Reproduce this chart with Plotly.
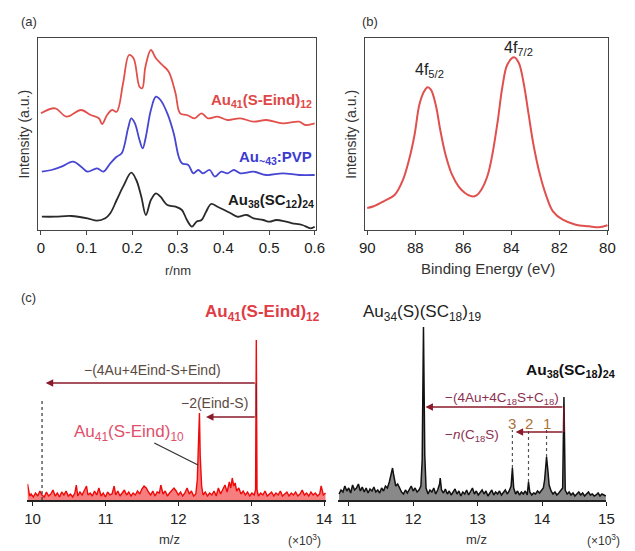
import plotly.graph_objects as go

W, H = 635, 551
FONT = "Liberation Sans, Arial, sans-serif"

# ---------------- Panel (a): RDF curves ----------------
r_red = [0.000, 0.031, 0.056, 0.088, 0.109, 0.127, 0.134, 0.145, 0.156, 0.166, 0.180, 0.193, 0.203,
         0.216, 0.222, 0.229, 0.241, 0.252, 0.266, 0.280, 0.295, 0.305, 0.320, 0.337, 0.352, 0.366,
         0.387, 0.409, 0.437, 0.466, 0.494, 0.530, 0.566, 0.580, 0.600]
i_red = [116.7, 121.7, 113.3, 120, 115, 111.7, 106, 115, 120, 118.3, 146.7, 175, 171.7,
         143.3, 141.7, 163.3, 180, 171.7, 165, 158.3, 136.7, 116.7, 115, 111.7, 116.7, 111.7,
         113.3, 110, 111.7, 108.3, 110, 106.7, 108.3, 105, 106.7]

r_blue = [0.002, 0.023, 0.045, 0.070, 0.088, 0.102, 0.123, 0.137, 0.152, 0.166, 0.177, 0.191, 0.198,
          0.206, 0.216, 0.223, 0.230, 0.241, 0.252, 0.262, 0.277, 0.291, 0.302, 0.309, 0.323, 0.334,
          0.345, 0.355, 0.370, 0.381, 0.395, 0.409, 0.423, 0.437, 0.466, 0.494, 0.530, 0.566, 0.600]
i_blue = [58.3, 60, 63.3, 68.3, 63.3, 58.3, 61.7, 58.3, 66.7, 73.3, 76.7, 101.7, 111.7,
          106.7, 90, 81.7, 93.3, 120, 133.3, 130, 116.7, 96.7, 73.3, 66.7, 65, 56.7,
          60, 56.7, 60, 53.3, 58.3, 56.7, 60, 56.7, 58.3, 55, 56.7, 55, 55]

r_black = [0.002, 0.031, 0.066, 0.102, 0.123, 0.141, 0.152, 0.166, 0.180, 0.198, 0.209, 0.220, 0.230,
           0.241, 0.252, 0.262, 0.277, 0.295, 0.309, 0.320, 0.331, 0.341, 0.352, 0.362, 0.373, 0.387,
           0.402, 0.416, 0.430, 0.451, 0.466, 0.487, 0.501, 0.516, 0.537, 0.551, 0.573, 0.591, 0.600]
i_black = [13.3, 13.3, 14, 11.7, 9.3, 11.7, 16.7, 30, 43.3, 57.3, 50, 33.3, 15,
           30, 36.7, 33.3, 25, 23.3, 20, 10, 3.3, 8.3, 10, 18.3, 26, 23.3,
           20, 16.7, 13.3, 15, 11.7, 10, 8.3, 10, 8.3, 6.7, 5, 1.7, 3.3]

r_ticks = [0, 0.1, 0.2, 0.3, 0.4, 0.5, 0.6]
r_tick_labels = ["0", "0.1", "0.2", "0.3", "0.4", "0.5", "0.6"]

# ---------------- Panel (b): XPS ----------------
be = [90.00, 89.73, 89.32, 88.85, 88.51, 88.24, 88.03, 87.83, 87.63, 87.49, 87.35, 87.15, 86.95,
      86.74, 86.47, 86.20, 85.93, 85.66, 85.45, 85.25, 84.98, 84.78, 84.57, 84.37, 84.17, 83.89,
      83.69, 83.49, 83.28, 83.08, 82.81, 82.54, 82.27, 81.86, 81.32, 80.77, 80.37, 80.00]
xps = [20, 21.7, 26.7, 33.3, 48.3, 70, 93.3, 123.3, 136.7, 140.7, 138.3, 123.3, 96.7,
       73.3, 53.3, 41.7, 35, 31.7, 32.7, 38.3, 53.3, 75, 106.7, 141.7, 163.3, 170.7,
       165, 145, 113.3, 83.3, 53.3, 31.7, 16.7, 8.3, 3.3, 1.7, 0.7, 2.7]
be_ticks = [90, 88, 86, 84, 82, 80]

# ---------------- Panel (c) left: MALDI Au41(S-Eind)12 ----------------
mz_left = [9.93, 9.96, 9.98, 10.01, 10.04, 10.07, 10.10, 10.13, 10.16, 10.19,
           10.22, 10.25, 10.28, 10.31, 10.34, 10.37, 10.40, 10.43, 10.46, 10.49,
           10.52, 10.55, 10.58, 10.60, 10.62, 10.65, 10.68, 10.71, 10.74, 10.76,
           10.79, 10.82, 10.85, 10.88, 10.91, 10.94, 10.97, 11.00, 11.03, 11.06,
           11.09, 11.12, 11.14, 11.17, 11.20, 11.23, 11.26, 11.29, 11.32, 11.35,
           11.38, 11.41, 11.44, 11.47, 11.50, 11.53, 11.56, 11.59, 11.62, 11.65,
           11.68, 11.71, 11.74, 11.76, 11.79, 11.82, 11.85, 11.88, 11.91, 11.94,
           11.97, 12.00, 12.03, 12.06, 12.09, 12.12, 12.15, 12.18, 12.21, 12.24,
           12.26, 12.28, 12.29, 12.30, 12.32, 12.34, 12.37, 12.40, 12.43, 12.46,
           12.49, 12.52, 12.55, 12.58, 12.61, 12.64, 12.67, 12.70, 12.72, 12.74,
           12.76, 12.78, 12.80, 12.83, 12.86, 12.89, 12.92, 12.95, 12.98, 13.01,
           13.04, 13.06, 13.07, 13.08, 13.10, 13.13, 13.16, 13.19, 13.22, 13.25,
           13.28, 13.31, 13.34, 13.37, 13.40, 13.43, 13.46, 13.49, 13.52, 13.55,
           13.58, 13.61, 13.64, 13.67, 13.70, 13.73, 13.76, 13.79, 13.82, 13.85,
           13.88, 13.91, 13.94, 13.96, 13.99, 14.02]
int_left = [16, 4, 6, 3, 7, 4, 9, 5, 3, 8,
            4, 6, 10, 4, 7, 3, 8, 5, 9, 4,
            6, 3, 7, 15, 4, 8, 5, 9, 14, 5,
            7, 4, 9, 5, 12, 4, 7, 3, 8, 5,
            6, 14, 5, 9, 4, 7, 10, 5, 8, 4,
            7, 5, 9, 6, 11, 14, 12, 8, 5, 9,
            4, 8, 7, 15, 6, 9, 4, 7, 10, 12,
            9, 5, 8, 4, 7, 12, 6, 9, 4, 6,
            20, 55, 87, 45, 14, 5, 8, 4, 7, 5,
            9, 4, 12, 6, 10, 15, 8, 18, 12, 22,
            14, 17, 9, 12, 6, 9, 5, 8, 4, 7,
            5, 10, 160, 10, 4, 7, 5, 9, 4, 6,
            8, 4, 7, 5, 9, 4, 6, 8, 4, 7,
            5, 8, 4, 6, 10, 5, 7, 4, 8, 5,
            7, 4, 6, 14, 5, 7]

# ---------------- Panel (c) right: MALDI Au38(SC18)24 ----------------
mz_right = [10.85, 10.88, 10.91, 10.94, 10.97, 11.00, 11.03, 11.06, 11.09, 11.12,
            11.15, 11.18, 11.21, 11.24, 11.27, 11.30, 11.33, 11.36, 11.39, 11.42,
            11.45, 11.48, 11.51, 11.54, 11.57, 11.60, 11.63, 11.66, 11.68, 11.70,
            11.73, 11.76, 11.79, 11.82, 11.85, 11.88, 11.91, 11.94, 11.97, 12.00,
            12.03, 12.06, 12.09, 12.12, 12.14, 12.16, 12.18, 12.20, 12.23, 12.26,
            12.29, 12.32, 12.35, 12.38, 12.41, 12.42, 12.44, 12.47, 12.50, 12.53,
            12.56, 12.59, 12.62, 12.65, 12.68, 12.71, 12.74, 12.77, 12.80, 12.83,
            12.86, 12.89, 12.92, 12.95, 12.98, 13.01, 13.04, 13.07, 13.10, 13.13,
            13.16, 13.19, 13.22, 13.25, 13.28, 13.31, 13.34, 13.37, 13.40, 13.43,
            13.46, 13.49, 13.52, 13.54, 13.56, 13.59, 13.62, 13.65, 13.68, 13.71,
            13.74, 13.77, 13.79, 13.81, 13.84, 13.87, 13.90, 13.93, 13.96, 13.99,
            14.02, 14.04, 14.06, 14.07, 14.09, 14.11, 14.14, 14.17, 14.20, 14.23,
            14.26, 14.29, 14.32, 14.34, 14.36, 14.39, 14.42, 14.45, 14.48, 14.51,
            14.54, 14.57, 14.60, 14.63, 14.66, 14.69, 14.72, 14.75, 14.78, 14.81,
            14.84, 14.87, 14.90, 14.93, 14.96, 14.99]
int_right = [6, 10, 8, 14, 9, 12, 7, 15, 10, 12,
             16, 9, 13, 8, 12, 7, 11, 9, 13, 8,
             10, 7, 12, 9, 14, 12, 18, 25, 32, 24,
             14, 16, 12, 8, 6, 10, 7, 11, 14, 9,
             12, 8, 10, 14, 40, 173, 45, 12, 6, 10,
             8, 12, 6, 10, 16, 22, 10, 7, 11, 6,
             9, 5, 8, 11, 6, 9, 4, 8, 6, 10,
             5, 8, 12, 6, 9, 5, 8, 10, 6, 9,
             4, 7, 10, 5, 8, 6, 9, 5, 7, 10,
             6, 9, 14, 32, 12, 6, 9, 5, 8, 6,
             9, 5, 18, 8, 5, 7, 6, 9, 7, 10,
             12, 20, 38, 43, 30, 15, 9, 6, 8, 5,
             7, 9, 12, 103, 10, 6, 8, 5, 7, 4,
             6, 8, 5, 7, 4, 6, 8, 5, 6, 4,
             5, 7, 4, 6, 5, 4]

mz_ticks_left = [10, 11, 12, 13, 14]
mz_ticks_right = [11, 12, 13, 14, 15]

# loss markers (m/z x10^3)
left_main_peak = 13.07
left_loss_end = 10.18
left_dotted = 10.13
left_frag_peak = 12.36
right_main_peak = 14.34
right_loss_end = 12.19
right_n_end = 13.59
right_n_peaks = [13.54, 13.79, 14.07]
right_n_tops = [32, 18, 43]
right_n_labels = ["3", "2", "1"]


def py(p):
    return 1 - p / H


def px(p):
    return p / W


fig = go.Figure()

fig.add_trace(go.Scatter(x=r_red, y=i_red, mode="lines", line=dict(color="#e2504c", width=1.8, shape="spline"),
                         xaxis="x", yaxis="y", showlegend=False))
fig.add_trace(go.Scatter(x=r_blue, y=i_blue, mode="lines", line=dict(color="#4646d2", width=1.8, shape="spline"),
                         xaxis="x", yaxis="y", showlegend=False))
fig.add_trace(go.Scatter(x=r_black, y=i_black, mode="lines", line=dict(color="#2a2a2a", width=1.8, shape="spline"),
                         xaxis="x", yaxis="y", showlegend=False))

fig.add_trace(go.Scatter(x=be, y=xps, mode="lines", line=dict(color="#e0504e", width=2, shape="spline"),
                         xaxis="x2", yaxis="y2", showlegend=False))

fig.add_trace(go.Scatter(x=mz_left, y=int_left, mode="lines", line=dict(color="#ee0a0a", width=1.4),
                         fill="tozeroy", fillcolor="rgba(240,20,20,0.55)",
                         xaxis="x3", yaxis="y3", showlegend=False))
fig.add_trace(go.Scatter(x=mz_right, y=int_right, mode="lines", line=dict(color="#111111", width=1.5),
                         fill="tozeroy", fillcolor="rgba(20,20,20,0.5)",
                         xaxis="x4", yaxis="y4", showlegend=False))

tickfont = dict(family=FONT, size=15, color="#222")

box = dict(showline=True, linecolor="#444", linewidth=1.2, mirror=True, showgrid=False, zeroline=False)

fig.update_layout(
    width=W, height=H, margin=dict(l=0, r=0, t=0, b=0),
    paper_bgcolor="white", plot_bgcolor="white",
    font=dict(family=FONT, color="#222"),
    xaxis=dict(domain=[px(33), px(318)], range=[-0.006, 0.604], tickvals=r_ticks, ticktext=r_tick_labels,
               ticks="outside", ticklen=4, tickcolor="#444", tickfont=tickfont, anchor="y", **box),
    yaxis=dict(domain=[py(230), py(38)], range=[0, 192], showticklabels=False, ticks="", anchor="x", **box),
    xaxis2=dict(domain=[px(368), px(617)], range=[90.08, 79.96], tickvals=be_ticks,
                ticks="outside", ticklen=4, tickcolor="#444", tickfont=tickfont, anchor="y2", **box),
    yaxis2=dict(domain=[py(230), py(38)], range=[-2, 190], showticklabels=False, ticks="", anchor="x2", **box),
    xaxis3=dict(domain=[px(22), px(328)], range=[9.93, 14.03], tickvals=mz_ticks_left,
                ticks="outside", ticklen=4, tickcolor="#222", tickfont=tickfont, anchor="y3",
                showline=True, linecolor="#222", linewidth=1.5, showgrid=False, zeroline=False),
    yaxis3=dict(domain=[py(500), py(300)], range=[0, 200], visible=False, anchor="x3"),
    xaxis4=dict(domain=[px(340), px(615)], range=[10.833, 15.0], tickvals=mz_ticks_right,
                ticks="outside", ticklen=4, tickcolor="#222", tickfont=tickfont, anchor="y4",
                showline=True, linecolor="#222", linewidth=1.5, showgrid=False, zeroline=False),
    yaxis4=dict(domain=[py(500), py(300)], range=[0, 200], visible=False, anchor="x4"),
)

ann = []


def text(x, y, t, size=12, color="#222", xanchor="center", xref="paper", yref="paper", angle=0):
    ann.append(dict(x=x, y=y, xref=xref, yref=yref, text=t, showarrow=False, xanchor=xanchor,
                    yanchor="middle", textangle=angle, font=dict(family=FONT, size=size, color=color)))


# panel tags
text(px(13), py(22), "(a)", 13, "#333", "left")
text(px(363), py(22), "(b)", 13, "#333", "left")
text(px(13), py(297), "(c)", 13, "#333", "left")

# axis titles
text(px(176), py(270), "r/nm", 13, "#333")
text(px(18), py(134), "Intensity (a.u.)", 14, "#333", angle=-90)
text(px(494), py(268), "Binding Energy (eV)", 15, "#333")
text(px(353), py(134), "Intensity (a.u.)", 14, "#333", angle=-90)
text(px(167), py(539), "m/z", 13, "#333")
text(px(482), py(539), "m/z", 13, "#333")
text(px(306), py(540), "(×10<sup>3</sup>)", 12, "#333")
text(px(612), py(540), "(×10<sup>3</sup>)", 12, "#333")

# panel (a) labels
text(0.598, 130, "<b>Au<sub>41</sub>(S-Eind)<sub>12</sub></b>", 15, "#e04848", "right", "x", "y")
text(0.598, 73, "<b>Au<sub>~43</sub>:PVP</b>", 15, "#3b3bd0", "right", "x", "y")
text(0.602, 30, "<b>Au<sub>38</sub>(SC<sub>12</sub>)<sub>24</sub></b>", 15, "#1a1a1a", "right", "x", "y")

# panel (b) labels
text(87.4, 158, "4f<sub>5/2</sub>", 16, "#222", "center", "x2", "y2")
text(83.7, 180, "4f<sub>7/2</sub>", 16, "#222", "center", "x2", "y2")

# panel (c) left labels
text(13.16, 187, "<b>Au<sub>41</sub>(S-Eind)<sub>12</sub></b>", 17, "#e03c46", "center", "x3", "y3")
text(11.32, 67, "Au<sub>41</sub>(S-Eind)<sub>10</sub>", 17, "#e0506a", "center", "x3", "y3")
text(11.65, 130, "−(4Au+4Eind-S+Eind)", 14, "#5a4a42", "center", "x3", "y3")
text(12.5, 97, "−2(Eind-S)", 14, "#5a4a42", "center", "x3", "y3")

# panel (c) right labels
text(12.15, 187, "Au<sub>34</sub>(S)(SC<sub>18</sub>)<sub>19</sub>", 17, "#222", "center", "x4", "y4")
text(px(531), py(370), "<b>Au<sub>38</sub>(SC<sub>18</sub>)<sub>24</sub></b>", 15.5, "#111", "left")
text(13.38, 102, "−(4Au+4C<sub>18</sub>S+C<sub>18</sub>)", 13.5, "#8b3050", "center", "x4", "y4")
text(12.91, 65, "−<i>n</i>(C<sub>18</sub>S)", 13.5, "#8b3050", "center", "x4", "y4")
for xv, lab in zip(right_n_peaks, right_n_labels):
    text(xv, 77, lab, 15, "#a8743c", "center", "x4", "y4")

# arrows
AR = "#8b1a2b"


def arrow(x_head, x_tail, y, xr, yr):
    ann.append(dict(x=x_head, y=y, ax=x_tail, ay=y, xref=xr, yref=yr, axref=xr, ayref=yr,
                    showarrow=True, arrowhead=2, arrowsize=1, arrowwidth=1.5, arrowcolor=AR,
                    standoff=0, text=""))


arrow(left_loss_end, left_main_peak, 117, "x3", "y3")
arrow(left_frag_peak + 0.02, left_main_peak, 83, "x3", "y3")
arrow(right_loss_end, right_main_peak, 93, "x4", "y4")
arrow(right_n_end, right_main_peak, 68, "x4", "y4")

fig.update_layout(annotations=ann)

shapes = []
# dotted line (left)
shapes.append(dict(type="line", xref="x3", yref="y3", x0=left_dotted, x1=left_dotted, y0=0, y1=102,
                   line=dict(color="#333", width=1.2, dash="dot")))
# leader line
shapes.append(dict(type="line", xref="x3", yref="y3", x0=11.67, x1=12.27, y0=57, y1=35,
                   line=dict(color="#333", width=1.3)))
# vertical dark-red guide under arrows on main peaks
shapes.append(dict(type="line", xref="x3", yref="y3", x0=left_main_peak, x1=left_main_peak, y0=83, y1=117,
                   line=dict(color=AR, width=1.3)))
shapes.append(dict(type="line", xref="x4", yref="y4", x0=right_main_peak, x1=right_main_peak, y0=68, y1=93,
                   line=dict(color=AR, width=1.3)))
# dotted lines to n-loss peaks
for xv, top in zip(right_n_peaks, right_n_tops):
    shapes.append(dict(type="line", xref="x4", yref="y4", x0=xv, x1=xv, y0=top, y1=70,
                       line=dict(color="#555", width=1.2, dash="dot")))
fig.update_layout(shapes=shapes)

fig.write_html("out.html", config={"displayModeBar": False},
               post_script="document.body.style.margin='0px';")
